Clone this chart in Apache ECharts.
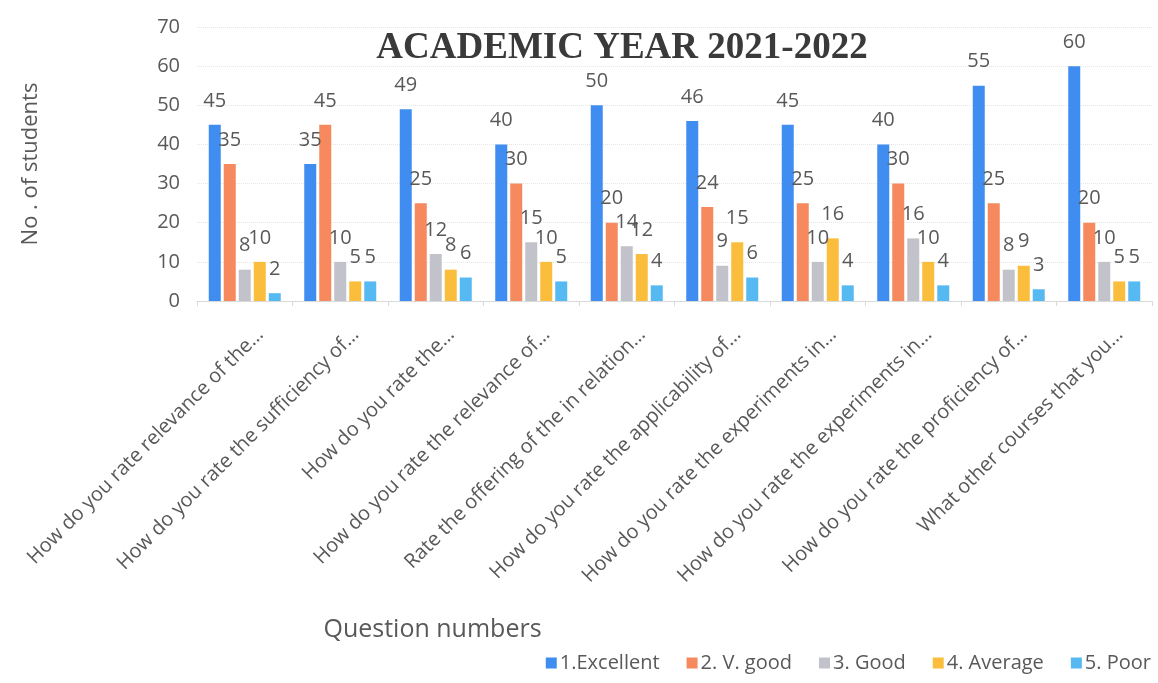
<!DOCTYPE html>
<html>
<head>
<meta charset="utf-8">
<script src="https://cdn.jsdelivr.net/npm/echarts@6/dist/echarts.min.js"></script>
<style>
html,body{margin:0;padding:0;background:#fff;}
#chart{width:1158px;height:683px;}
</style>
</head>
<body>
<div id="chart"></div>
<script>
const categories = [
  "How do you rate relevance of the…",
  "How do you rate the sufficiency of…",
  "How do you rate the…",
  "How do you rate the relevance of…",
  "Rate the offering of the in relation…",
  "How do you rate the applicability of…",
  "How do you rate the experiments in…",
  "How do you rate the experiments in…",
  "How do you rate the proficiency of…",
  "What other courses that you…"
];
const seriesNames = ["1.Excellent", "2. V. good", "3. Good", "4. Average", "5. Poor"];
const excellent = [45, 35, 49, 40, 50, 46, 45, 40, 55, 60];
const vgood     = [35, 45, 25, 30, 20, 24, 25, 30, 25, 20];
const good      = [8, 10, 12, 15, 14, 9, 10, 16, 8, 10];
const average   = [10, 5, 8, 10, 12, 15, 16, 10, 9, 5];
const poor      = [2, 5, 6, 5, 4, 6, 4, 4, 3, 5];
const yTicks = [0, 10, 20, 30, 40, 50, 60, 70];

const colors = ["#3f8df0", "#f68a5e", "#c2c2ca", "#fbbd3c", "#56b9f1"];
const font = "'Open Sans', 'Noto Sans', sans-serif";
const seriesData = [excellent, vgood, good, average, poor];

const chart = echarts.init(document.getElementById('chart'));
chart.setOption({
  backgroundColor: '#ffffff',
  animation: false,
  title: {
    text: 'ACADEMIC YEAR 2021-2022',
    left: 617, top: 25, textAlign: 'center',
    textStyle: { fontFamily: "'Liberation Serif', serif", fontWeight: 'bold', fontSize: 37, color: '#3a3a3a' }
  },
  legend: {
    data: seriesNames,
    right: 2, top: 648,
    itemWidth: 11, itemHeight: 11, itemGap: 27,
    icon: 'rect',
    textStyle: { fontFamily: font, fontSize: 20, color: '#595959', padding: [0,0,0,-2] }
  },
  grid: { left: 197, right: 6, top: 27, bottom: 382, containLabel: false },
  xAxis: {
    type: 'category',
    data: categories,
    name: 'Question numbers',
    nameLocation: 'middle',
    nameGap: 316,
    nameTextStyle: { fontFamily: font, fontSize: 25, color: '#595959', padding: [0, 0, 0, -484] },
    axisLine: { show: true, lineStyle: { color: '#d9d9d9' } },
    axisTick: { show: true, alignWithLabel: false, length: 5, lineStyle: { color: '#d9d9d9' } },
    axisLabel: { interval: 0, rotate: 45, margin: 46, padding: [0, -22, 0, 0], fontFamily: font, fontSize: 20, color: '#595959' }
  },
  yAxis: {
    type: 'value',
    min: 0, max: 70, interval: 10,
    name: 'No . of students',
    nameLocation: 'middle',
    nameGap: 155,
    nameRotate: 90,
    nameTextStyle: { fontFamily: font, fontSize: 22, color: '#595959' },
    axisLine: { show: false },
    axisTick: { show: false },
    axisLabel: {
      margin: 17, fontFamily: font, fontSize: 20, color: '#595959',
      formatter: v => yTicks.includes(v) ? String(v) : ''
    },
    splitLine: { show: true, lineStyle: { color: '#e6e6e6', type: 'dotted' } }
  },
  series: seriesData.map((d, i) => ({
    name: seriesNames[i],
    type: 'bar',
    data: d,
    barWidth: 12,
    barGap: '25%',
    itemStyle: { color: colors[i] },
    label: {
      show: true, position: 'top', distance: 14,
      fontFamily: font, fontSize: 20, color: '#595959'
    }
  }))
});
</script>
</body>
</html>
